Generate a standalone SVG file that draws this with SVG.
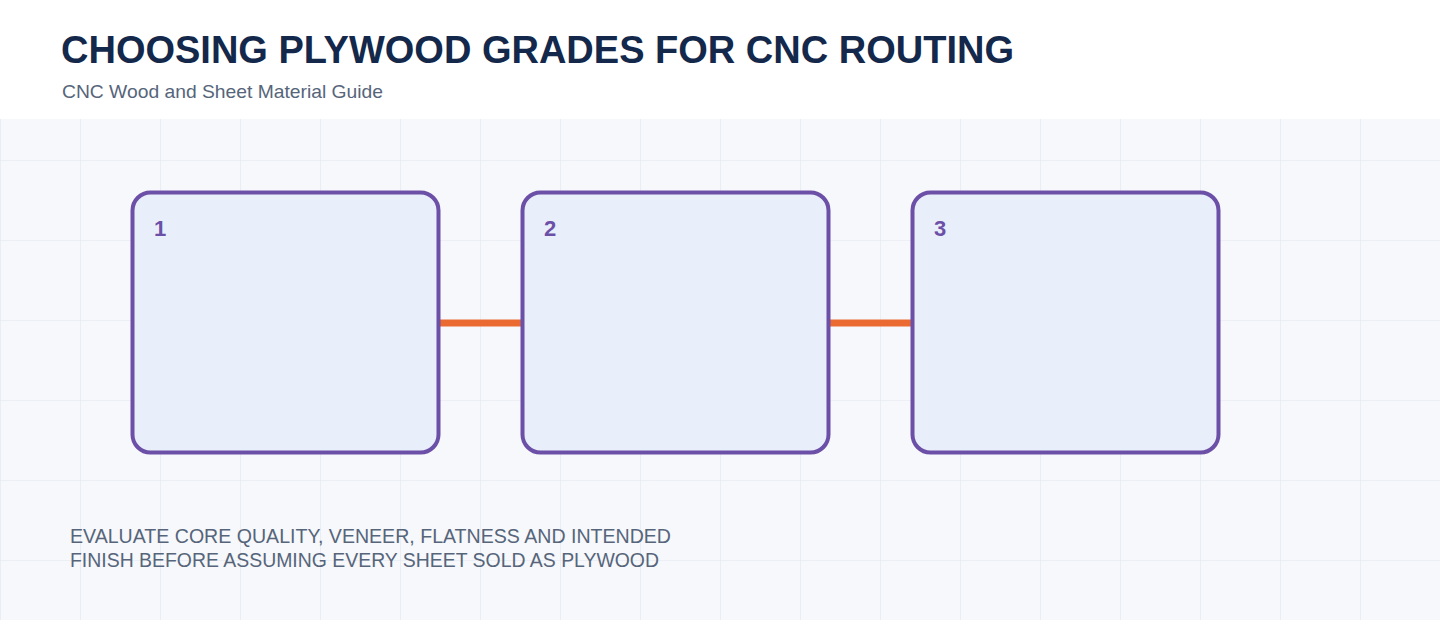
<svg xmlns="http://www.w3.org/2000/svg" width="1440" height="620" viewBox="0 0 1440 620">
<defs>
<pattern id="grid" x="0" y="0" width="80" height="80" patternUnits="userSpaceOnUse">
<path d="M0 0 V80 M0 0 H80" fill="none" stroke="#E2E6EE" stroke-width="1.2"/>
</pattern>
<style>
.box{fill:#E9EFFA;stroke:#6C4FA7;stroke-width:4}
.num{font-family:"Liberation Sans",Arial,sans-serif;font-weight:bold;font-size:22px;fill:#6C4FA7}
.conn{stroke:#EB6A32;stroke-width:7;fill:none}
.note{font-family:"Liberation Sans",Arial,sans-serif;font-size:19.5px;fill:#56657A}
</style>
</defs>
<rect x="0" y="0" width="1440" height="620" fill="#FFFFFF"/>
<rect x="0" y="119" width="1440" height="501" fill="#F6F8FC"/>
<rect x="0" y="119" width="1440" height="501" fill="url(#grid)"/>
<text x="61" y="63" font-family="Liberation Sans,Arial,sans-serif" font-weight="bold" font-size="38" fill="#13284A" textLength="953" lengthAdjust="spacingAndGlyphs">CHOOSING PLYWOOD GRADES FOR CNC ROUTING</text>
<text x="62" y="98" font-family="Liberation Sans,Arial,sans-serif" font-size="19" fill="#56657A" textLength="321" lengthAdjust="spacingAndGlyphs">CNC Wood and Sheet Material Guide</text>
<g id="connectors">
<line class="conn" x1="440" y1="323" x2="521" y2="323"/>
<line class="conn" x1="830" y1="323" x2="911" y2="323"/>
</g>
<g id="node1">
<rect class="box" x="132.5" y="192.5" width="306" height="260" rx="18"/>
<text class="num" x="154" y="236">1</text>
</g>
<g id="node2">
<rect class="box" x="522.5" y="192.5" width="306" height="260" rx="18"/>
<text class="num" x="544" y="236">2</text>
</g>
<g id="node3">
<rect class="box" x="912.5" y="192.5" width="306" height="260" rx="18"/>
<text class="num" x="934" y="236">3</text>
</g>
<text class="note" x="70" y="543" textLength="601" lengthAdjust="spacingAndGlyphs">EVALUATE CORE QUALITY, VENEER, FLATNESS AND INTENDED</text>
<text class="note" x="70" y="567" textLength="589" lengthAdjust="spacingAndGlyphs">FINISH BEFORE ASSUMING EVERY SHEET SOLD AS PLYWOOD</text>
</svg>
